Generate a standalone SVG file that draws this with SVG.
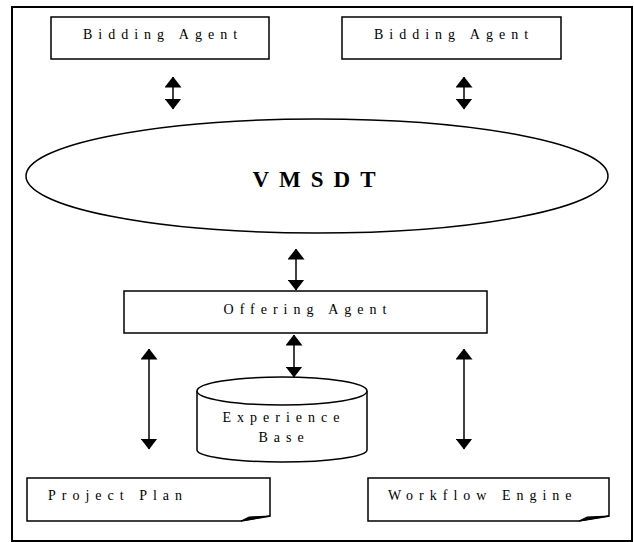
<svg xmlns="http://www.w3.org/2000/svg" width="634" height="542" viewBox="0 0 634 542">
<style>
.shape{fill:#fff;stroke:#000;stroke-width:1.5}
.lbl{font-family:"Liberation Serif","Times New Roman","DejaVu Serif",serif;font-size:14px;letter-spacing:6px;fill:#000;text-anchor:middle}
.big{font-family:"Liberation Serif","Times New Roman","DejaVu Serif",serif;font-size:23px;font-weight:bold;letter-spacing:10px;fill:#000;text-anchor:middle}
.conn{stroke:#000;stroke-width:1.5;fill:none;marker-start:url(#ah);marker-end:url(#ah)}
</style>
<defs>
<marker id="ah" viewBox="0 0 11 17" refX="10.5" refY="8.5" markerWidth="11" markerHeight="17" markerUnits="userSpaceOnUse" orient="auto-start-reverse">
<path d="M0,0 L11,8.5 L0,17 Z" fill="#000"/>
</marker>
</defs>
<rect x="12" y="7" width="620" height="534" fill="#fff" stroke="#000" stroke-width="2"/>
<g id="bidding1"><rect class="shape" x="51" y="17" width="218" height="42"/><text class="lbl" x="163" y="39">Bidding Agent</text></g>
<g id="bidding2"><rect class="shape" x="342" y="17" width="219" height="42"/><text class="lbl" x="454" y="39">Bidding Agent</text></g>
<g id="vmsdt"><ellipse class="shape" cx="317" cy="176" rx="291" ry="57"/><text class="big" x="319" y="187">VMSDT</text></g>
<g id="offering"><rect class="shape" x="124" y="291" width="363" height="42"/><text class="lbl" x="308" y="314">Offering Agent</text></g>
<g id="experience"><path class="shape" d="M197,391 V450 A85,12 0 0 0 367,450 V391"/><ellipse class="shape" cx="282" cy="391" rx="85" ry="14"/><text class="lbl" x="284" y="422">Experience</text><text class="lbl" x="284" y="442">Base</text></g>
<g id="projectplan"><path class="shape" d="M27,478 H270 V516 L241,521 H27 Z"/><path d="M241,521 L249,517 L270,516 Z" fill="#000" stroke="#000" stroke-width="1"/><text class="lbl" x="48" y="500" style="text-anchor:start">Project Plan</text></g>
<g id="workflow"><path class="shape" d="M368,478 H609 V516 L579,521 H368 Z"/><path d="M579,521 L587,517 L609,516 Z" fill="#000" stroke="#000" stroke-width="1"/><text class="lbl" x="388" y="500" style="text-anchor:start">Workflow Engine</text></g>
<g id="connectors">
<line class="conn" x1="173" y1="77" x2="173" y2="109"/>
<line class="conn" x1="464" y1="77" x2="464" y2="109"/>
<line class="conn" x1="296" y1="249" x2="296" y2="290"/>
<line class="conn" x1="294" y1="335" x2="294" y2="377"/>
<line class="conn" x1="149" y1="349" x2="149" y2="449"/>
<line class="conn" x1="464" y1="349" x2="464" y2="449"/>
</g>
</svg>
